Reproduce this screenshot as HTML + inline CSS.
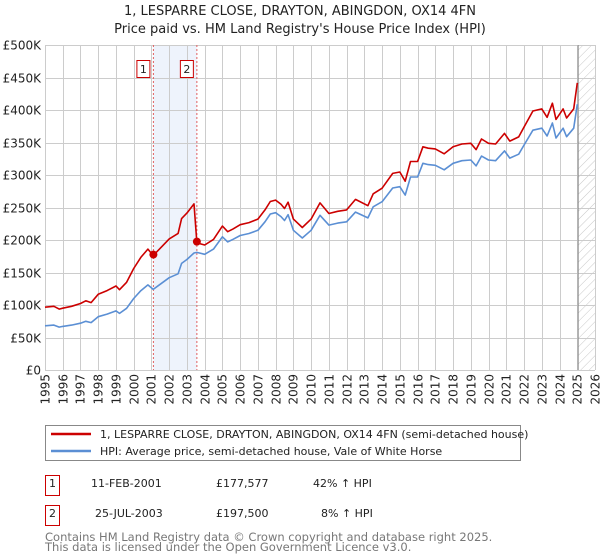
<!DOCTYPE html>
<html><head><meta charset="utf-8">
<style>
body{margin:0;background:#fff;font-family:"DejaVu Sans","Liberation Sans",sans-serif;}
#wrap{position:relative;width:600px;height:560px;overflow:hidden;}
</style></head>
<body>
<div id="wrap">
<svg id="chart" width="600" height="560" xmlns="http://www.w3.org/2000/svg">
<defs>
<pattern id="hatch" width="6" height="6" patternUnits="userSpaceOnUse" patternTransform="rotate(45)">
<line x1="0" y1="0" x2="0" y2="6" stroke="#c8c8c8" stroke-width="1"/>
</pattern>
</defs>
<text x="300" y="15" text-anchor="middle" font-size="13" fill="#222">1, LESPARRE CLOSE, DRAYTON, ABINGDON, OX14 4FN</text>
<text x="300" y="33" text-anchor="middle" font-size="13" fill="#222">Price paid vs. HM Land Registry's House Price Index (HPI)</text>
<g id="grid"></g>
<g id="marks"></g>
<g id="axes"></g>
<!-- legend -->
<rect x="45.5" y="425.5" width="475" height="35" fill="#fff" stroke="#888"/>
<line x1="51" y1="434" x2="91" y2="434" stroke="#cc0000" stroke-width="2.5"/>
<text x="100" y="438" font-size="11" fill="#222">1, LESPARRE CLOSE, DRAYTON, ABINGDON, OX14 4FN (semi-detached house)</text>
<line x1="51" y1="451" x2="91" y2="451" stroke="#5b8fd4" stroke-width="2.5"/>
<text x="100" y="455" font-size="11" fill="#222">HPI: Average price, semi-detached house, Vale of White Horse</text>
<!-- table -->
<g>
<rect x="45.5" y="475.5" width="14" height="20" fill="#fff" stroke="#cc0000"/>
<text x="52.5" y="487" text-anchor="middle" font-size="11" fill="#222">1</text>
<text x="91" y="487" font-size="11" fill="#222">11-FEB-2001</text>
<text x="216" y="487" font-size="11" fill="#222">£177,577</text>
<text x="313" y="487" font-size="11" fill="#222">42% ↑ HPI</text>
</g>
<g>
<rect x="45.5" y="505.5" width="14" height="20" fill="#fff" stroke="#cc0000"/>
<text x="52.5" y="517" text-anchor="middle" font-size="11" fill="#222">2</text>
<text x="95" y="517" font-size="11" fill="#222">25-JUL-2003</text>
<text x="216" y="517" font-size="11" fill="#222">£197,500</text>
<text x="321" y="517" font-size="11" fill="#222">8% ↑ HPI</text>
</g>
<text x="45" y="541" font-size="11.5" fill="#777">Contains HM Land Registry data © Crown copyright and database right 2025.</text>
<text x="45" y="551" font-size="11.5" fill="#777">This data is licensed under the Open Government Licence v3.0.</text>
</svg>
</div>
<script>
// ---- data ----
const hpiYears = [1995,1995.5,1995.8,1996,1996.5,1997,1997.3,1997.6,1998,1998.5,1999,1999.2,1999.6,2000,2000.4,2000.8,2001.1,2001.5,2002,2002.5,2002.7,2003,2003.4,2003.56,2004,2004.5,2005,2005.3,2005.6,2006,2006.5,2007,2007.4,2007.7,2008,2008.3,2008.5,2008.7,2009,2009.5,2010,2010.5,2011,2011.5,2012,2012.5,2013.2,2013.5,2014,2014.6,2015,2015.3,2015.6,2016,2016.3,2016.6,2017,2017.5,2018,2018.5,2019,2019.3,2019.6,2020,2020.4,2020.9,2021.2,2021.7,2022,2022.5,2023,2023.3,2023.6,2023.8,2024.2,2024.4,2024.8,2025.0];
const hpiValues = [68,69,66,67,69,72,75,73,82,86,91,87,95,110,122,131,124,132,142,148,164,170,180,181,178,186,205,197,201,207,210,215,228,240,242,236,230,239,215,203,215,238,223,226,228,243,234,251,259,280,282,269,297,297,318,316,315,308,318,322,323,314,329,323,322,337,326,332,346,369,372,360,380,357,372,359,372,409];
const saleDates = [2001.11, 2003.56];
const salePrices = [177.577, 197.5];
const saleLabels = ["1","2"];
const ratioBeforeSale2 = 1.42;
const ratioAfterSale2 = 1.08;
const yTicks = [0,50,100,150,200,250,300,350,400,450,500];
const yTickLabels = ["£0","£50K","£100K","£150K","£200K","£250K","£300K","£350K","£400K","£450K","£500K"];
const xTicks = [1995,1996,1997,1998,1999,2000,2001,2002,2003,2004,2005,2006,2007,2008,2009,2010,2011,2012,2013,2014,2015,2016,2017,2018,2019,2020,2021,2022,2023,2024,2025,2026];
const dataEnd = 2025.05;

// ---- axes ----
const L=45,R=595,T=45,B=370, X0=1995, X1=2026, YMAX=500;
const xs = v => L + (v-X0)/(X1-X0)*(R-L);
const ys = v => B - v/YMAX*(B-T);
const NS="http://www.w3.org/2000/svg";
function mk(tag, attrs, parent){const e=document.createElementNS(NS,tag);for(const k in attrs)e.setAttribute(k,attrs[k]);parent.appendChild(e);return e;}
const grid=document.getElementById('grid'), marks=document.getElementById('marks'), axes=document.getElementById('axes');

let sh=mk('rect',{x:xs(saleDates[0]),y:T,width:xs(saleDates[1])-xs(saleDates[0]),height:B-T,fill:'#eef3fc'},grid);


let hz=mk('rect',{x:xs(dataEnd),y:T,width:R-xs(dataEnd),height:B-T,fill:'url(#hatch)'},grid);



yTicks.forEach((v,i)=>{
  const y=Math.round(ys(v))+0.5;
  const g=mk('line',{x1:L,x2:R,y1:y,y2:y,stroke:'#cccccc','stroke-width':1},grid);
  
  
  const t=mk('text',{x:L-4,y:y+4,'text-anchor':'end','font-size':12,fill:'#222'},axes);
  t.textContent=yTickLabels[i];
  
  
});
xTicks.forEach(v=>{
  const x=Math.round(xs(v))+0.5;
  const g=mk('line',{x1:x,x2:x,y1:T,y2:B,stroke:'#cccccc','stroke-width':1},grid);
  
  
  const t=mk('text',{x:x+4,y:B+4,'text-anchor':'end','font-size':12,fill:'#222',transform:`rotate(-90 ${x+4} ${B+4})`},axes);
  t.textContent=String(v);
  
  
});
let dl=mk('line',{x1:xs(dataEnd),x2:xs(dataEnd),y1:T,y2:B,stroke:'#888','stroke-width':1},grid);



saleDates.forEach((d,i)=>{
  const l=mk('line',{x1:xs(d),x2:xs(d),y1:T,y2:B,stroke:'#e06060','stroke-width':1,'stroke-dasharray':'2,2'},grid);
  
  
});

const pts = (vals)=>hpiYears.map((yr,i)=>xs(yr).toFixed(1)+','+ys(vals[i]).toFixed(1)).join(' ');
const redVals = hpiValues.map((v,i)=>hpiYears[i] < saleDates[1] ? v*ratioBeforeSale2 : v*ratioAfterSale2);
let hp=mk('polyline',{points:pts(hpiValues),fill:'none',stroke:'#5b8fd4','stroke-width':1.6,'stroke-linejoin':'round'},marks);


let rp=mk('polyline',{points:pts(redVals),fill:'none',stroke:'#cc0000','stroke-width':1.6,'stroke-linejoin':'round'},marks);



saleDates.forEach((d,i)=>{
  const c=mk('circle',{cx:xs(d),cy:ys(salePrices[i]),r:4,fill:'#cc0000'},marks);
  
  
  const bx=xs(d)-10-7;
  const r=mk('rect',{x:bx+0.5,y:60.5,width:13,height:17,fill:'#fff',stroke:'#cc0000'},marks);
  
  
  const t=mk('text',{x:bx+7,y:73,'text-anchor':'middle','font-size':11,fill:'#222'},marks);
  t.textContent=saleLabels[i];
  
  
});
</script>
</body></html>
